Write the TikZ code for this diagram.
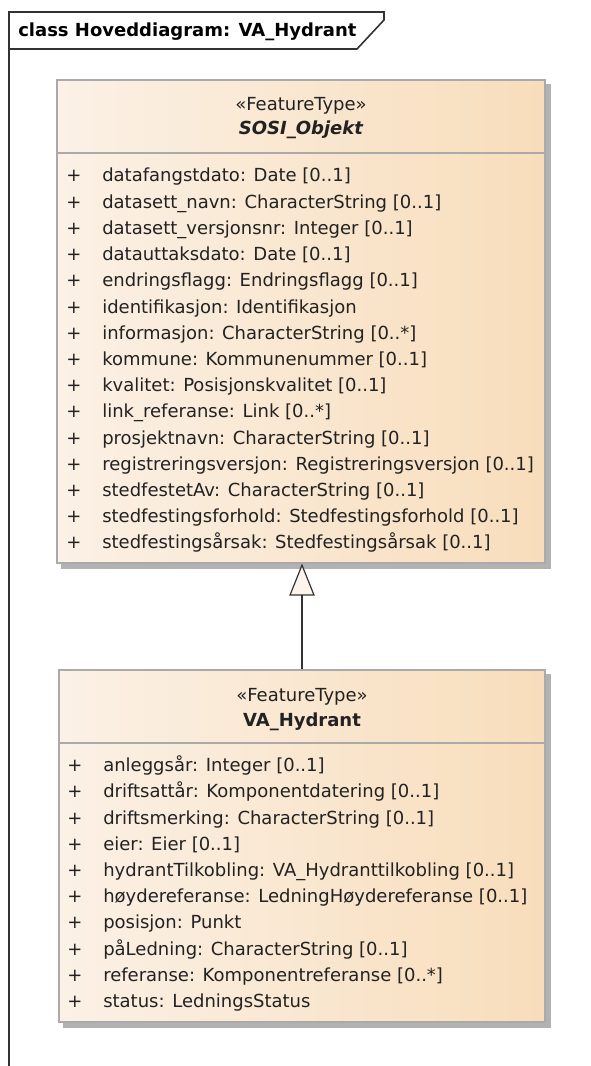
\documentclass[tikz,border=0pt]{standalone}
\usepackage{fontspec}
\setmainfont{DejaVu Sans}
\usepackage{xcolor}
\usepackage{tikz}
\usetikzlibrary{arrows.meta, fit, backgrounds}

\definecolor{boxleft}{RGB}{251,241,230}
\definecolor{boxright}{RGB}{248,221,187}
\definecolor{boxline}{RGB}{170,170,170}
\definecolor{boxshadow}{RGB}{178,178,178}
\definecolor{frameline}{RGB}{50,50,50}
\definecolor{textdark}{RGB}{34,34,34}
\definecolor{trifill}{RGB}{253,245,236}

\begin{document}
\begin{tikzpicture}[x=0.75pt, y=-0.75pt,
    umlbox/.style={draw=boxline, line width=0.8pt, left color=boxleft, right color=boxright, inner sep=0pt},
    attr/.style={anchor=base west, inner sep=0pt, text=textdark, font=\fontsize{13.5pt}{16pt}\selectfont},
    head/.style={anchor=base, inner sep=0pt, text=textdark, font=\fontsize{13.5pt}{16pt}\selectfont},
    genarrow/.style={draw=frameline, line width=0.9pt, -{Triangle[open, fill=trifill, length=24pt, width=19pt]}}]

    % =================================================================
    % 1. KHUNG HÌNH VÀ TIÊU ĐỀ
    % =================================================================
    \useasboundingbox (0,0) rectangle (590,1066);

    % Khung bên trái và nhãn ngũ giác
    \draw[frameline, line width=1.2pt] (9,1066) -- (9,12) -- (384,12) -- (384,20) -- (357,49) -- (9,49);
    \node[anchor=base west, inner sep=0pt, font=\fontsize{13.5pt}{16pt}\selectfont\bfseries] (title) at (18,37) {class Hoveddiagram: VA\_Hydrant};

    % =================================================================
    % 2. TỌA ĐỘ GÓC CÁC LỚP
    % =================================================================
    \coordinate (SosiNW) at (57,80);
    \coordinate (SosiSE) at (545,563);
    \coordinate (HydNW) at (59,670);
    \coordinate (HydSE) at (545,1022);

    % Ký hiệu "+" trước mỗi thuộc tính
    \newcommand{\plusmark}{\makebox[27pt][l]{+}}

    % =================================================================
    % 3. LỚP SOSI_Objekt
    % =================================================================
    \node[umlbox, fit=(SosiNW)(SosiSE)] (sosi) {};
    \draw[boxline, line width=0.8pt] (57,153) -- (545,153);

    \node[head] (sosiStereo) at (301,111) {«FeatureType»};
    \node[head, font=\fontsize{13.5pt}{16pt}\selectfont\bfseries\itshape] (sosiName) at (301,135) {SOSI\_Objekt};

    \node[attr] (s1) at (66,182) {\plusmark datafangstdato: Date [0..1]};
    \node[attr] (s2) at (66,208.2) {\plusmark datasett\_navn: CharacterString [0..1]};
    \node[attr] (s3) at (66,234.4) {\plusmark datasett\_versjonsnr: Integer [0..1]};
    \node[attr] (s4) at (66,260.6) {\plusmark datauttaksdato: Date [0..1]};
    \node[attr] (s5) at (66,286.8) {\plusmark endringsflagg: Endringsflagg [0..1]};
    \node[attr] (s6) at (66,313) {\plusmark identifikasjon: Identifikasjon};
    \node[attr] (s7) at (66,339.2) {\plusmark informasjon: CharacterString [0..*]};
    \node[attr] (s8) at (66,365.4) {\plusmark kommune: Kommunenummer [0..1]};
    \node[attr] (s9) at (66,391.6) {\plusmark kvalitet: Posisjonskvalitet [0..1]};
    \node[attr] (s10) at (66,417.8) {\plusmark link\_referanse: Link [0..*]};
    \node[attr] (s11) at (66,444) {\plusmark prosjektnavn: CharacterString [0..1]};
    \node[attr] (s12) at (66,470.2) {\plusmark registreringsversjon: Registreringsversjon [0..1]};
    \node[attr] (s13) at (66,496.4) {\plusmark stedfestetAv: CharacterString [0..1]};
    \node[attr] (s14) at (66,522.6) {\plusmark stedfestingsforhold: Stedfestingsforhold [0..1]};
    \node[attr] (s15) at (66,548.8) {\plusmark stedfestingsårsak: Stedfestingsårsak [0..1]};

    % =================================================================
    % 4. LỚP VA_Hydrant
    % =================================================================
    \node[umlbox, fit=(HydNW)(HydSE)] (hydrant) {};
    \draw[boxline, line width=0.8pt] (59,743) -- (545,743);

    \node[head] (hydStereo) at (302,701.7) {«FeatureType»};
    \node[head, font=\fontsize{13.5pt}{16pt}\selectfont\bfseries] (hydName) at (302,726.7) {VA\_Hydrant};

    \node[attr] (h1) at (67,771.7) {\plusmark anleggsår: Integer [0..1]};
    \node[attr] (h2) at (67,797.9) {\plusmark driftsattår: Komponentdatering [0..1]};
    \node[attr] (h3) at (67,824.1) {\plusmark driftsmerking: CharacterString [0..1]};
    \node[attr] (h4) at (67,850.3) {\plusmark eier: Eier [0..1]};
    \node[attr] (h5) at (67,876.5) {\plusmark hydrantTilkobling: VA\_Hydranttilkobling [0..1]};
    \node[attr] (h6) at (67,902.7) {\plusmark høydereferanse: LedningHøydereferanse [0..1]};
    \node[attr] (h7) at (67,928.9) {\plusmark posisjon: Punkt};
    \node[attr] (h8) at (67,955.1) {\plusmark påLedning: CharacterString [0..1]};
    \node[attr] (h9) at (67,981.3) {\plusmark referanse: Komponentreferanse [0..*]};
    \node[attr] (h10) at (67,1007.5) {\plusmark status: LedningsStatus};

    % =================================================================
    % 5. BÓNG ĐỔ VÀ MŨI TÊN KẾ THỪA
    % =================================================================
    \begin{scope}[on background layer]
        \fill[boxshadow] ([shift={(5,5)}]sosi.north west) rectangle ([shift={(5,5)}]sosi.south east);
        \fill[boxshadow] ([shift={(5,5)}]hydrant.north west) rectangle ([shift={(5,5)}]hydrant.south east);
    \end{scope}

    \draw[genarrow] (hydrant.north) -- (hydrant.north |- sosi.south);

\end{tikzpicture}
\end{document}
